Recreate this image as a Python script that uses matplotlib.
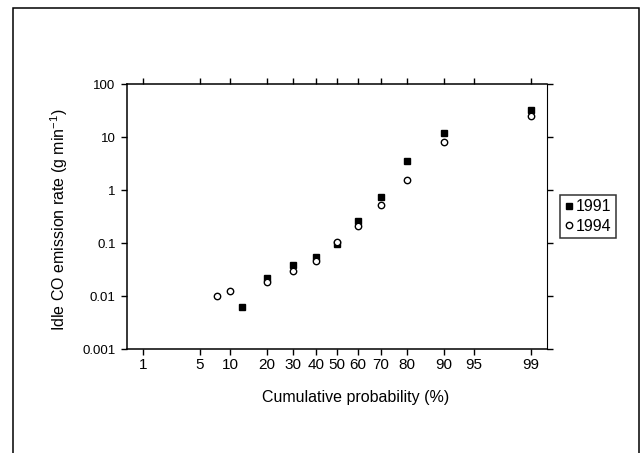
"""
Idle CO emission rate vs cumulative probability (normal probability scale).
"""

from statistics import NormalDist

import matplotlib
matplotlib.use("Agg")
import matplotlib.pyplot as plt
import numpy as np
from matplotlib.patches import Rectangle

plt.rcParams["font.family"] = ["Liberation Sans", "DejaVu Sans"]

# 1991 data (cumulative probability %, g/min)
p_1991 = [12.7, 20, 30, 40, 50, 60, 70, 80, 90, 99]
co_1991 = [0.0062, 0.022, 0.039, 0.054, 0.096, 0.26, 0.75, 3.6, 11.9, 32.7]

# 1994 data
p_1994 = [7.6, 10, 20, 30, 40, 50, 60, 70, 80, 90, 99]
co_1994 = [0.0101, 0.0126, 0.019, 0.030, 0.046, 0.104, 0.212, 0.53, 1.56, 8.3, 25.6]

x_ticks = [1, 5, 10, 20, 30, 40, 50, 60, 70, 80, 90, 95, 99]
y_ticks = [0.001, 0.01, 0.1, 1, 10, 100]
y_labels = ["0.001", "0.01", "0.1", "1", "10", "100"]

_nd = NormalDist()
_inv_cdf = np.vectorize(lambda p: _nd.inv_cdf(p), otypes=[float])
_cdf = np.vectorize(lambda z: _nd.cdf(z), otypes=[float])


def prob_fwd(p):
    p = np.clip(np.asarray(p, dtype=float), 1e-6, 100 - 1e-6)
    return _inv_cdf(p / 100.0)


def prob_inv(z):
    return _cdf(np.asarray(z, dtype=float)) * 100.0


fig = plt.figure(figsize=(6.43, 4.53), dpi=100)
ax = fig.add_axes([0.197, 0.2289, 0.653, 0.585])

ax.set_xscale("function", functions=(prob_fwd, prob_inv))
ax.set_yscale("log")

sq, = ax.plot(p_1991, co_1991, "s", color="black", markersize=4.8, label="1991")
ci, = ax.plot(p_1994, co_1994, "o", markerfacecolor="white", markeredgecolor="black",
              markeredgewidth=1.0, markersize=4.6, label="1994")

ax.set_xlim(0.589, 99.4)
ax.set_ylim(0.001, 100)

ax.set_xticks(x_ticks)
ax.set_xticklabels([str(t) for t in x_ticks])
ax.set_yticks(y_ticks)
ax.set_yticklabels(y_labels)
ax.minorticks_off()

ax.tick_params(axis="x", direction="out", length=4, width=1.0, labelsize=11,
               top=True, pad=2)
ax.tick_params(axis="y", direction="out", length=4, width=1.0, labelsize=9.5,
               right=True, pad=4)
for s in ax.spines.values():
    s.set_linewidth(1.1)
ax.spines["right"].set_linewidth(0.8)

ax.set_xlabel("Cumulative probability (%)", fontsize=11.5)
ax.xaxis.set_label_coords(0.545, -0.155)
ax.set_ylabel("Idle CO emission rate (g min$^{\\mathregular{-1}}$)", fontsize=11.5)
ax.yaxis.set_label_coords(-0.135, 0.49)

leg = fig.legend(handles=[sq, ci], loc="upper left", bbox_to_anchor=(0.871, 0.569),
                 fontsize=11.5, frameon=True, fancybox=False, borderpad=0.25,
                 labelspacing=0.3, handletextpad=0.15, handlelength=0.6,
                 borderaxespad=0)
leg.get_frame().set_edgecolor("black")
leg.get_frame().set_linewidth(1.1)

fig.patches.append(Rectangle((0.0198, -0.1), 0.974, 1.0817, transform=fig.transFigure,
                             fill=False, edgecolor="black", linewidth=1.1))

fig.savefig("out.png", dpi=100)
plt.close()
